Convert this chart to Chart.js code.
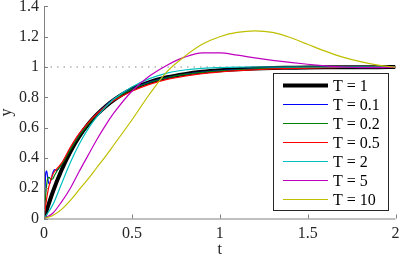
<!DOCTYPE html>
<html lang="en">
<head>
<meta charset="UTF-8">
<title>Step responses for several T</title>
<script src="https://cdn.jsdelivr.net/npm/chart.js@4"></script>
<style>
  html, body { margin: 0; padding: 0; background: #fff; }
  #chart { display: block; }
</style>
</head>
<body>
<canvas id="chart" width="399" height="257"></canvas>
<script>
// sample times
const tCoarse = [0, 0.05, 0.1, 0.15, 0.2, 0.25, 0.3, 0.35, 0.4, 0.5, 0.6, 0.7, 0.8, 0.9, 1.0,
                 1.1, 1.2, 1.3, 1.4, 1.5, 1.6, 1.7, 1.8, 1.9, 2.0];
const tFine = [0, 0.005, 0.01, 0.015, 0.02, 0.025, 0.03, 0.04, 0.05, 0.06, 0.07, 0.08, 0.1,
               0.15, 0.2, 0.25, 0.3, 0.35, 0.4, 0.5, 0.6, 0.7, 0.8, 0.9, 1.0,
               1.1, 1.2, 1.3, 1.4, 1.5, 1.6, 1.7, 1.8, 1.9, 2.0];

// y values (tCoarse)
const yT1  = [0, 0.175, 0.32, 0.44, 0.54, 0.62, 0.685, 0.74, 0.785, 0.855, 0.9, 0.932, 0.953, 0.968, 0.978,
              0.985, 0.99, 0.993, 0.995, 0.997, 0.998, 0.998, 0.999, 0.999, 1.0];
const yT2  = [0, 0.09, 0.23, 0.37, 0.49, 0.59, 0.67, 0.735, 0.79, 0.868, 0.923, 0.96, 0.98, 0.991, 0.996,
              0.999, 1.0, 1.0, 1.0, 1.0, 1.0, 1.0, 1.0, 1.0, 1.0];
const yT5  = [0, 0.035, 0.11, 0.2, 0.31, 0.415, 0.52, 0.615, 0.7, 0.84, 0.94, 1.012, 1.065, 1.093, 1.093,
              1.078, 1.06, 1.044, 1.03, 1.018, 1.008, 1.0, 0.996, 0.996, 0.998];
const yT10 = [0, 0.02, 0.06, 0.12, 0.19, 0.26, 0.335, 0.41, 0.49, 0.65, 0.82, 0.97, 1.07, 1.15, 1.2,
              1.228, 1.238, 1.228, 1.195, 1.15, 1.105, 1.065, 1.035, 1.012, 0.998];

// y values (tFine)
const yT01 = [0, 0.17, 0.3, 0.315, 0.28, 0.24, 0.228, 0.255, 0.3, 0.322, 0.318, 0.325, 0.36,
              0.46, 0.55, 0.625, 0.69, 0.745, 0.79, 0.855, 0.9, 0.93, 0.952, 0.966, 0.976,
              0.983, 0.988, 0.992, 0.994, 0.996, 0.997, 0.998, 0.999, 0.999, 1.0];
const yT02 = [0, 0.08, 0.16, 0.22, 0.26, 0.272, 0.27, 0.258, 0.262, 0.285, 0.305, 0.325, 0.355,
              0.455, 0.545, 0.62, 0.687, 0.742, 0.787, 0.853, 0.898, 0.929, 0.951, 0.965, 0.975,
              0.982, 0.987, 0.991, 0.994, 0.996, 0.997, 0.998, 0.999, 0.999, 1.0];
const yT05 = [0, 0.045, 0.09, 0.13, 0.165, 0.195, 0.22, 0.26, 0.29, 0.31, 0.325, 0.338, 0.365,
              0.47, 0.56, 0.63, 0.69, 0.74, 0.78, 0.84, 0.885, 0.918, 0.94, 0.956, 0.967,
              0.976, 0.982, 0.987, 0.99, 0.993, 0.995, 0.997, 0.998, 0.999, 0.999];

const refLine = [1, 1];
const xTicks = [0, 0.5, 1, 1.5, 2];
const yTicks = [0, 0.2, 0.4, 0.6, 0.8, 1, 1.2, 1.4];

const serif = "'Liberation Serif', 'Times New Roman', serif";
const axisGrey = '#808080';

function pts(ts, ys) { return ts.map((t, i) => ({ x: t, y: ys[i] })); }

// legend order as in the figure
const legendItems = [
    { label: 'T = 1',   color: '#000000', width: 4 },
    { label: 'T = 0.1', color: '#0000ff', width: 1.2 },
    { label: 'T = 0.2', color: '#008000', width: 1.2 },
    { label: 'T = 0.5', color: '#ff0000', width: 1.2 },
    { label: 'T = 2',   color: '#00bfbf', width: 1.2 },
    { label: 'T = 5',   color: '#bf00bf', width: 1.2 },
    { label: 'T = 10',  color: '#bfbf00', width: 1.2 }
];

function line(item, data) {
    return {
        label: item.label, data: data,
        borderColor: item.color, borderWidth: item.width,
        pointRadius: 0, fill: false, cubicInterpolationMode: 'monotone'
    };
}

// dataset 0 ends up on top, so the thick black one goes last
const datasets = [
    line(legendItems[6], pts(tCoarse, yT10)),
    line(legendItems[5], pts(tCoarse, yT5)),
    line(legendItems[4], pts(tCoarse, yT2)),
    line(legendItems[3], pts(tFine, yT05)),
    line(legendItems[2], pts(tFine, yT02)),
    line(legendItems[1], pts(tFine, yT01)),
    line(legendItems[0], pts(tCoarse, yT1)),
    { label: 'ref', data: pts([0, 2], refLine), borderColor: '#8c8c8c', borderWidth: 1,
      borderDash: [1.5, 5], pointRadius: 0, fill: false }
];

// axes with inward ticks, titles and the boxed legend
const axesPlugin = {
    id: 'axesPlugin',
    afterDatasetsDraw(chart) {
        const ctx = chart.ctx, a = chart.chartArea;
        const xs = chart.scales.x, ys = chart.scales.y;
        ctx.save();
        ctx.strokeStyle = axisGrey;
        ctx.lineWidth = 1;
        ctx.beginPath();
        ctx.moveTo(a.left + 0.5, a.top);
        ctx.lineTo(a.left + 0.5, a.bottom + 0.5);
        ctx.lineTo(a.right, a.bottom + 0.5);
        xTicks.forEach(v => {
            const px = Math.round(xs.getPixelForValue(v)) + 0.5;
            ctx.moveTo(px, a.bottom);
            ctx.lineTo(px, a.bottom - 4);
        });
        yTicks.forEach(v => {
            const py = Math.round(ys.getPixelForValue(v)) + 0.5;
            ctx.moveTo(a.left, py);
            ctx.lineTo(a.left + 4, py);
        });
        ctx.stroke();

        ctx.fillStyle = '#262626';
        ctx.font = '16px ' + serif;
        ctx.textAlign = 'center';
        ctx.textBaseline = 'middle';
        ctx.fillText('t', (a.left + a.right) / 2, 250);
        ctx.translate(7, (a.top + a.bottom) / 2);
        ctx.rotate(-Math.PI / 2);
        ctx.fillText('y', 0, 0);
        ctx.restore();
    },
    afterDraw(chart) {
        const ctx = chart.ctx;
        const box = { x: 273.5, y: 73.5, w: 115, h: 137 };
        ctx.save();
        ctx.fillStyle = '#fff';
        ctx.fillRect(box.x, box.y, box.w, box.h);
        ctx.strokeStyle = '#262626';
        ctx.lineWidth = 1;
        ctx.strokeRect(box.x, box.y, box.w, box.h);
        ctx.font = '16px ' + serif;
        ctx.textAlign = 'left';
        ctx.textBaseline = 'middle';
        legendItems.forEach((it, i) => {
            const y = 85.5 + i * 19;
            ctx.strokeStyle = it.color;
            ctx.lineWidth = it.width;
            ctx.beginPath();
            ctx.moveTo(283, y);
            ctx.lineTo(328, y);
            ctx.stroke();
            ctx.fillStyle = '#000';
            ctx.fillText(it.label, 333, y + 1);
        });
        ctx.restore();
    }
};

const fmt = v => String(Math.round(v * 10) / 10);

new Chart(document.getElementById('chart'), {
    type: 'line',
    data: { datasets: datasets },
    plugins: [axesPlugin],
    options: {
        responsive: false,
        animation: false,
        events: [],
        layout: { padding: { top: 6.4, right: 3.5, left: 0, bottom: 0 } },
        plugins: { legend: { display: false }, tooltip: { enabled: false } },
        scales: {
            x: {
                type: 'linear', min: 0, max: 2,
                afterBuildTicks: s => { s.ticks = xTicks.map(v => ({ value: v })); },
                afterFit: s => { s.height = 38.5; s.paddingLeft = 0; s.paddingRight = 0; },
                grid: { display: false, drawTicks: false, tickLength: 0 },
                border: { display: false },
                ticks: { padding: 6, color: '#262626', maxRotation: 0, callback: fmt,
                         font: { family: serif, size: 16 } }
            },
            y: {
                type: 'linear', min: 0, max: 1.4,
                afterBuildTicks: s => { s.ticks = yTicks.map(v => ({ value: v })); },
                afterFit: s => { s.width = 44; s.paddingTop = 0; s.paddingBottom = 0; },
                grid: { display: false, drawTicks: false, tickLength: 0 },
                border: { display: false },
                ticks: { padding: 5, color: '#262626', callback: fmt,
                         font: { family: serif, size: 16 } }
            }
        }
    }
});
</script>
</body>
</html>
